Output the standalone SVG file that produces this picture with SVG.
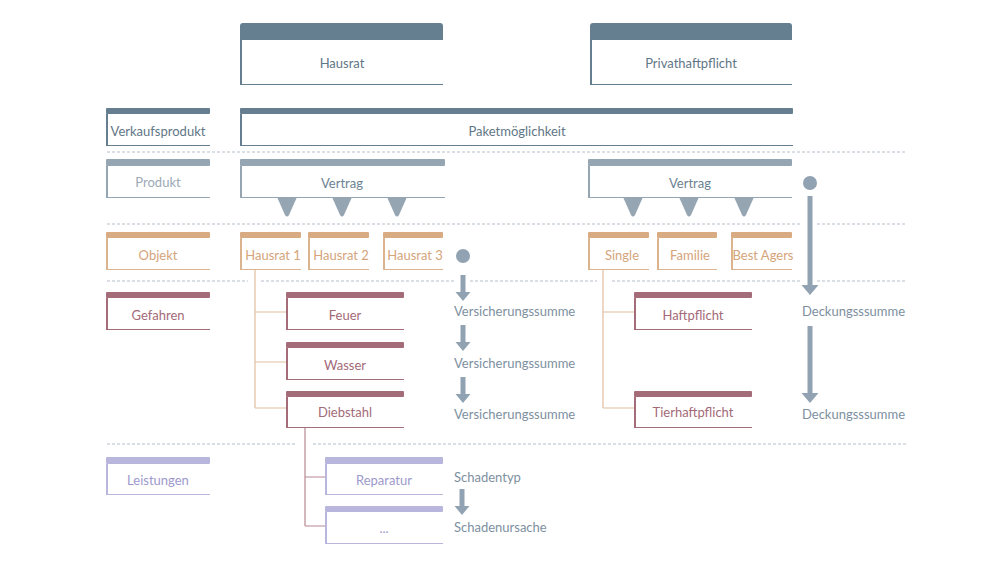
<svg xmlns="http://www.w3.org/2000/svg" width="1000" height="562" viewBox="0 0 1000 562">
<style>
text{font-family:"Lato","Open Sans",sans-serif;font-size:13px;text-anchor:middle;dominant-baseline:central}
.lbl{text-anchor:start}
.bg{fill:#fff}
.dash{stroke:#b4bfcb;stroke-width:1;stroke-dasharray:3 2;fill:none}
.s-bar{fill:#667f90}.s-edge{stroke:#667f90;fill:none}.s-t{fill:#5f7686}
.p-bar{fill:#96a5b2}.p-edge{stroke:#96a5b2;fill:none}.p-t{fill:#9ba9b5}.v-t{fill:#6c8292}
.o-bar{fill:#d8ab83}.o-edge{stroke:#dcb38f;fill:none}.o-t{fill:#d5a47b}
.r-bar{fill:#a46c79}.r-edge{stroke:#a46c79;fill:none}.r-t{fill:#a36a78}
.u-bar{fill:#b9b6de}.u-edge{stroke:#b9b6de;fill:none}.u-t{fill:#9d99cc}
.g{fill:#91a3b3}.gt{fill:#7d909f}
.oc{stroke:#e2bf9f;stroke-width:1.2;fill:none}
.rc{stroke:#b98893;stroke-width:1.2;fill:none}
.lw{stroke-width:2}.bw{stroke-width:1}
</style>
<defs>
<path id="arr" d="M-2.5,0 h5 v17 h5 l-7.5,9 l-7.5,-9 h5 z"/>
<path id="tri" d="M-10,0 h20 l-8,18 q-2,3 -4,0 z"/>
</defs>

<g id="separators">
<line class="dash" x1="107" y1="152" x2="907" y2="152"/>
<line class="dash" x1="107" y1="224" x2="802" y2="224"/>
<line class="dash" x1="817" y1="224" x2="907" y2="224"/>
<line class="dash" x1="107" y1="281" x2="248" y2="281"/>
<line class="dash" x1="261" y1="281" x2="454" y2="281"/>
<line class="dash" x1="470" y1="281" x2="597" y2="281"/>
<line class="dash" x1="612" y1="281" x2="802" y2="281"/>
<line class="dash" x1="817" y1="281" x2="907" y2="281"/>
<line class="dash" x1="107" y1="444" x2="297" y2="444"/>
<line class="dash" x1="313" y1="444" x2="907" y2="444"/>
</g>

<g id="connectors">
<path class="oc" d="M255,269 V408 M255,312 H287 M255,362 H287 M255,408 H287"/>
<path class="oc" d="M603,269 V408 M603,312 H634 M603,408 H634"/>
<path class="rc" d="M305,427 V526 M305,477 H325 M305,526 H325"/>
<circle class="g" cx="810" cy="183" r="7"/>
<path class="g" d="M807.5,196 h5 v89 h6 l-8.5,10 l-8.5,-10 h6 z"/>
<path class="g" d="M807.5,326 h5 v67 h6 l-8.5,10 l-8.5,-10 h6 z"/>
<circle class="g" cx="463" cy="256" r="7"/>
<use href="#arr" class="g" x="463" y="275"/>
<use href="#arr" class="g" x="463" y="325"/>
<use href="#arr" class="g" x="463" y="377"/>
<use href="#arr" class="g" x="462" y="489"/>
<use href="#tri" class="p-bar" x="287" y="197"/>
<use href="#tri" class="p-bar" x="342" y="197"/>
<use href="#tri" class="p-bar" x="397" y="197"/>
<use href="#tri" class="p-bar" x="633" y="197"/>
<use href="#tri" class="p-bar" x="689" y="197"/>
<use href="#tri" class="p-bar" x="744" y="197"/>
</g>

<g id="hausrat">
<rect class="bg" x="240" y="23" width="203" height="61"/>
<path class="s-bar" d="M240,40 V26 q0,-3 3,-3 H440 q3,0 3,3 V40 z"/>
<path class="s-edge lw" d="M241,40 V84"/><path class="s-edge bw" d="M240,84.5 H443"/>
<text class="s-t" x="342" y="63">Hausrat</text>
</g>
<g id="privathaftpflicht">
<rect class="bg" x="590" y="23" width="202" height="61"/>
<path class="s-bar" d="M590,40 V26 q0,-3 3,-3 H789 q3,0 3,3 V40 z"/>
<path class="s-edge lw" d="M591,40 V84"/><path class="s-edge bw" d="M590,84.5 H792"/>
<text class="s-t" x="691" y="63">Privathaftpflicht</text>
</g>

<g id="verkaufsprodukt">
<rect class="s-bar" x="106" y="108" width="104" height="6" rx="1"/>
<path class="s-edge lw" d="M107,114 V145"/><path class="s-edge bw" d="M106,145.5 H210"/>
<text class="s-t" x="158" y="131">Verkaufsprodukt</text>
</g>
<g id="paketmoeglichkeit">
<rect class="s-bar" x="240" y="108" width="553" height="6" rx="1"/>
<path class="s-edge lw" d="M241,114 V145"/><path class="s-edge bw" d="M240,145.5 H793"/>
<text class="s-t" x="517" y="131">Paketmöglichkeit</text>
</g>

<g id="produkt">
<rect class="p-bar" x="106" y="159" width="104" height="7" rx="1"/>
<path class="p-edge lw" d="M107,166 V197"/><path class="p-edge bw" d="M106,197.5 H210"/>
<text class="p-t" x="158" y="182">Produkt</text>
</g>
<g id="vertrag-hausrat">
<rect class="p-bar" x="240" y="159" width="205" height="7" rx="1"/>
<path class="p-edge lw" d="M241,166 V197"/><path class="p-edge bw" d="M240,197.5 H445"/>
<text class="v-t" x="342" y="183">Vertrag</text>
</g>
<g id="vertrag-privathaftpflicht">
<rect class="p-bar" x="588" y="159" width="204" height="7" rx="1"/>
<path class="p-edge lw" d="M589,166 V197"/><path class="p-edge bw" d="M588,197.5 H792"/>
<text class="v-t" x="690" y="183">Vertrag</text>
</g>

<g id="objekt">
<rect class="o-bar" x="106" y="232" width="104" height="6" rx="1"/>
<path class="o-edge lw" d="M107,238 V269"/><path class="o-edge bw" d="M106,269.5 H210"/>
<text class="o-t" x="158" y="255">Objekt</text>
</g>
<g id="hausrat-1">
<rect class="o-bar" x="240" y="232" width="61" height="6" rx="1"/>
<path class="o-edge lw" d="M241,238 V269"/><path class="o-edge bw" d="M240,269.5 H301"/>
<text class="o-t" x="273" y="255">Hausrat 1</text>
</g>
<g id="hausrat-2">
<rect class="o-bar" x="308" y="232" width="61" height="6" rx="1"/>
<path class="o-edge lw" d="M309,238 V269"/><path class="o-edge bw" d="M308,269.5 H369"/>
<text class="o-t" x="341" y="255">Hausrat 2</text>
</g>
<g id="hausrat-3">
<rect class="o-bar" x="383" y="232" width="60" height="6" rx="1"/>
<path class="o-edge lw" d="M384,238 V269"/><path class="o-edge bw" d="M383,269.5 H443"/>
<text class="o-t" x="415" y="255">Hausrat 3</text>
</g>
<g id="single">
<rect class="o-bar" x="588" y="232" width="61" height="6" rx="1"/>
<path class="o-edge lw" d="M589,238 V269"/><path class="o-edge bw" d="M588,269.5 H649"/>
<text class="o-t" x="622" y="255">Single</text>
</g>
<g id="familie">
<rect class="o-bar" x="657" y="232" width="60" height="6" rx="1"/>
<path class="o-edge lw" d="M658,238 V269"/><path class="o-edge bw" d="M657,269.5 H717"/>
<text class="o-t" x="690" y="255">Familie</text>
</g>
<g id="best-agers">
<rect class="o-bar" x="731" y="232" width="61" height="6" rx="1"/>
<path class="o-edge lw" d="M732,238 V269"/><path class="o-edge bw" d="M731,269.5 H792"/>
<text class="o-t" x="763" y="255">Best Agers</text>
</g>

<g id="gefahren">
<rect class="r-bar" x="106" y="292" width="104" height="6" rx="1"/>
<path class="r-edge lw" d="M107,298 V329"/><path class="r-edge bw" d="M106,329.5 H210"/>
<text class="r-t" x="158" y="315">Gefahren</text>
</g>
<g id="feuer">
<rect class="r-bar" x="286" y="292" width="118" height="6" rx="1"/>
<path class="r-edge lw" d="M287,298 V329"/><path class="r-edge bw" d="M286,329.5 H404"/>
<text class="r-t" x="345" y="315">Feuer</text>
</g>
<g id="wasser">
<rect class="r-bar" x="286" y="342" width="118" height="6" rx="1"/>
<path class="r-edge lw" d="M287,348 V379"/><path class="r-edge bw" d="M286,379.5 H404"/>
<text class="r-t" x="345" y="365">Wasser</text>
</g>
<g id="diebstahl">
<rect class="r-bar" x="286" y="391" width="118" height="6" rx="1"/>
<path class="r-edge lw" d="M287,397 V427"/><path class="r-edge bw" d="M286,427.5 H404"/>
<text class="r-t" x="345" y="412">Diebstahl</text>
</g>
<g id="haftpflicht">
<rect class="r-bar" x="634" y="292" width="118" height="6" rx="1"/>
<path class="r-edge lw" d="M635,298 V329"/><path class="r-edge bw" d="M634,329.5 H752"/>
<text class="r-t" x="693" y="315">Haftpflicht</text>
</g>
<g id="tierhaftpflicht">
<rect class="r-bar" x="634" y="391" width="118" height="6" rx="1"/>
<path class="r-edge lw" d="M635,397 V427"/><path class="r-edge bw" d="M634,427.5 H752"/>
<text class="r-t" x="693" y="412">Tierhaftpflicht</text>
</g>

<g id="leistungen">
<rect class="u-bar" x="106" y="457" width="104" height="7" rx="1"/>
<path class="u-edge lw" d="M107,464 V494"/><path class="u-edge bw" d="M106,494.5 H210"/>
<text class="u-t" x="158" y="480">Leistungen</text>
</g>
<g id="reparatur">
<rect class="u-bar" x="325" y="457" width="118" height="7" rx="1"/>
<path class="u-edge lw" d="M326,464 V494"/><path class="u-edge bw" d="M325,494.5 H443"/>
<text class="u-t" x="384" y="480">Reparatur</text>
</g>
<g id="weitere-leistungen">
<rect class="u-bar" x="325" y="506" width="118" height="6" rx="1"/>
<path class="u-edge lw" d="M326,512 V543"/><path class="u-edge bw" d="M325,543.5 H443"/>
<text class="u-t" x="384" y="528">...</text>
</g>

<g id="attribute-labels">
<text class="gt lbl" x="454" y="311">Versicherungssumme</text>
<text class="gt lbl" x="454" y="363">Versicherungssumme</text>
<text class="gt lbl" x="454" y="414">Versicherungssumme</text>
<text class="gt lbl" x="802" y="311">Deckungsssumme</text>
<text class="gt lbl" x="802" y="414">Deckungsssumme</text>
<text class="gt lbl" x="454" y="477">Schadentyp</text>
<text class="gt lbl" x="454" y="527">Schadenursache</text>
</g>
</svg>
